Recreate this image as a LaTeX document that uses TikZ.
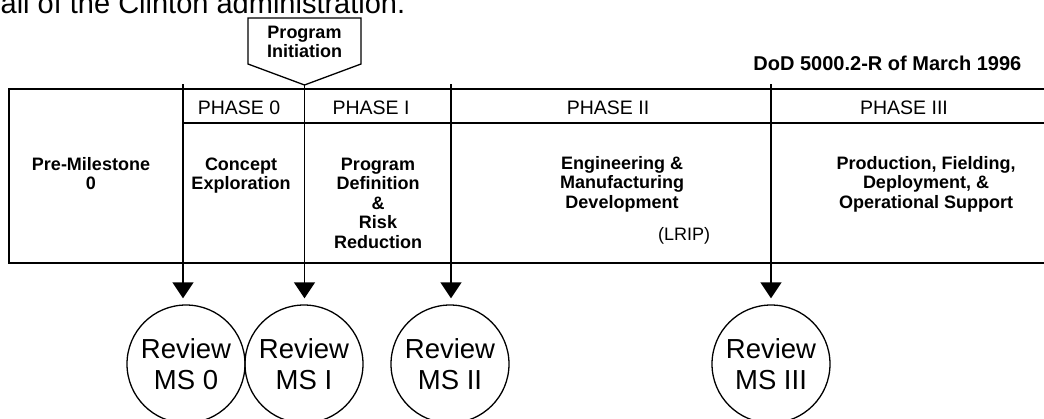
\documentclass[tikz,border=0pt]{standalone}
\usepackage{fontspec}
\setmainfont{Liberation Sans}
\usetikzlibrary{arrows.meta}
\begin{document}
\begin{tikzpicture}[x=1pt,y=-1pt,
  line width=1.3pt,
  frame/.style={line width=1.8pt},
  hdr/.style={inner sep=0pt, anchor=base, font=\fontsize{19.5}{20}\selectfont},
  body/.style={inner sep=0pt, anchor=base, align=center, font=\bfseries\fontsize{18}{19.5}\selectfont},
  review/.style={circle, draw, line width=1.3pt, minimum size=118pt, inner sep=0pt, align=center, font=\fontsize{27.5}{30.7}\selectfont},
  ms/.style={-{Triangle[length=16pt,width=21pt]}, line width=1.3pt, shorten >=6pt}
]
\useasboundingbox (0,0) rectangle (1044,418);
% clipped document text at the top
\node[anchor=base west, inner sep=0pt, font=\fontsize{29}{34}\selectfont] (doc) at (0,13) {ail of the Clinton administration.};
% program initiation marker
\draw (248,18) -- (361,18) -- (361,64) -- (304.5,85) -- (248,64) -- cycle;
\coordinate (t1) at (304.5,85);
\node[body, font=\bfseries\fontsize{18}{19}\selectfont] (pi) at (304.5,57) {Program\\Initiation};
\node[inner sep=0pt, anchor=base east, font=\bfseries\fontsize{20}{22}\selectfont] (dod) at (1022,70) {DoD 5000.2-R of March 1996};
% table
\draw[frame] (1044,89) -- (9,89) -- (9,263) -- (1044,263);
\draw[frame] (183,123) -- (1044,123);
\coordinate (t0) at (183,84);
\coordinate (t2) at (451,84);
\coordinate (t3) at (771,84);
% headers
\node[hdr] (h0) at (239,114) {PHASE 0};
\node[hdr] (h1) at (371,114) {PHASE I};
\node[hdr] (h2) at (608,114) {PHASE II};
\node[hdr] (h3) at (904,114) {PHASE III};
% bodies (anchored at the baseline of the last line)
\node[body] (pre) at (91,189.5) {Pre-Milestone\\0};
\node[body] (b0) at (241,189.5) {Concept\\Exploration};
\node[body] (b1) at (378,248) {Program\\Definition\\\&\\Risk\\Reduction};
\node[body] (b2) at (622,208) {Engineering \&\\Manufacturing\\Development};
\node[inner sep=0pt, anchor=base, font=\fontsize{18}{20}\selectfont] (lrip) at (684,240) {(LRIP)};
\node[body] (b3) at (926,208) {Production, Fielding,\\Deployment, \&\\Operational Support};
% reviews
\node[review] (r0) at (186,364) {Review\\MS 0};
\node[review] (r1) at (304,364) {Review\\MS I};
\node[review] (r2) at (450,364) {Review\\MS II};
\node[review] (r3) at (771,364) {Review\\MS III};
\draw[ms] (t0) -- (t0 |- r0.north);
\draw[ms] (t1) -- (t1 |- r1.north);
\draw[ms] (t2) -- (t2 |- r2.north);
\draw[ms] (t3) -- (t3 |- r3.north);
\end{tikzpicture}
\end{document}
